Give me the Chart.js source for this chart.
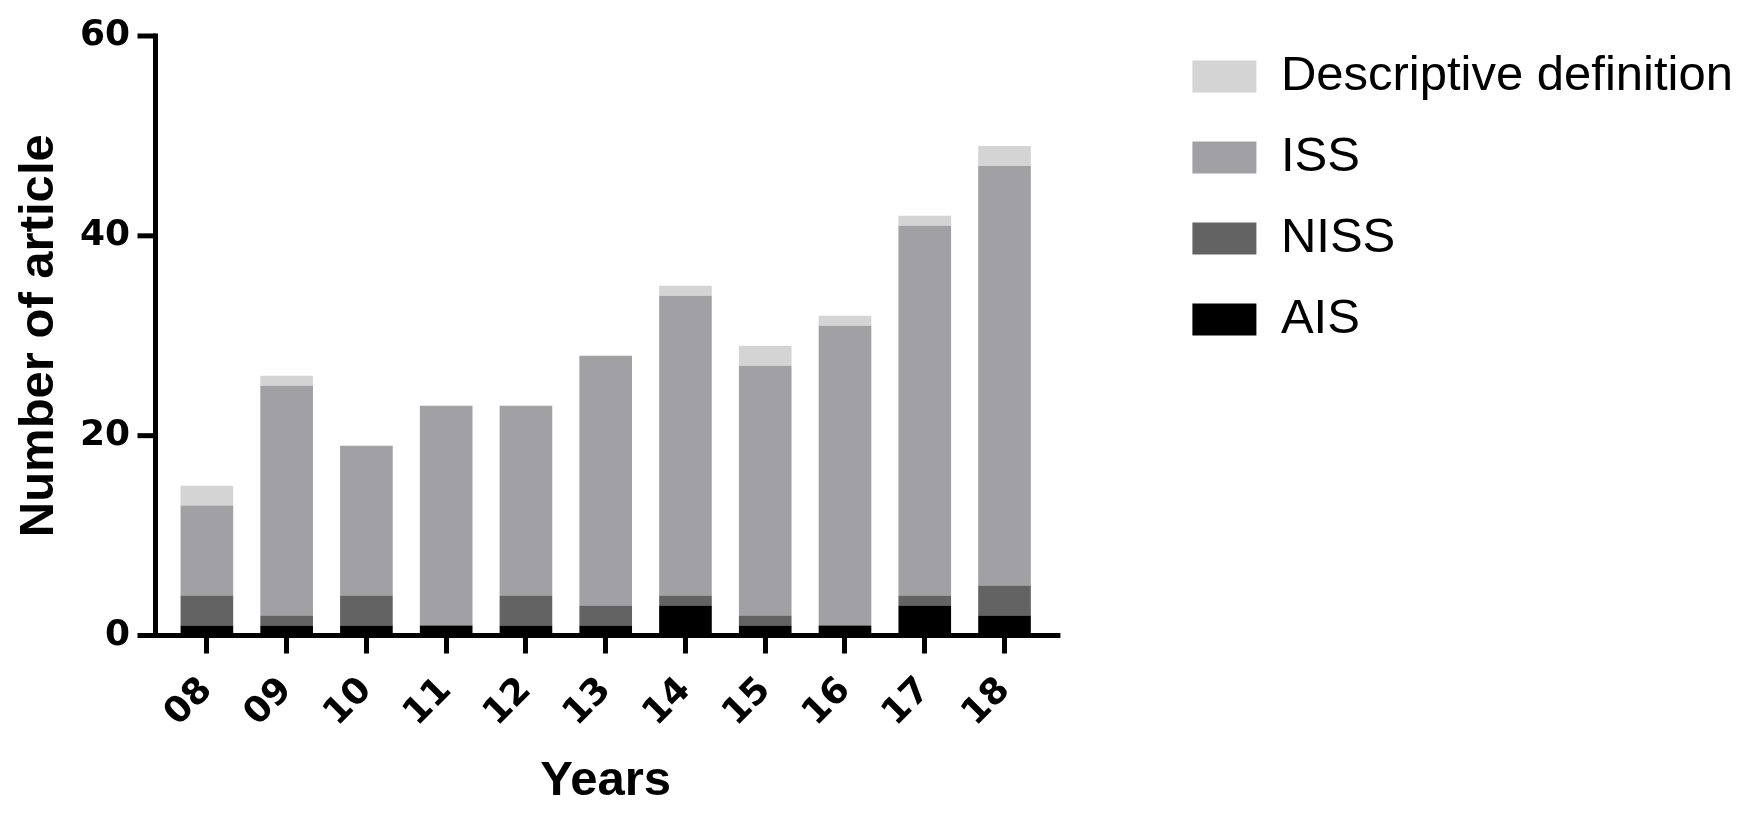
<!DOCTYPE html>
<html>
<head>
<meta charset="utf-8">
<script src="https://cdn.jsdelivr.net/npm/chart.js@4.4.0/dist/chart.umd.min.js"></script>
<style>
  html, body { margin: 0; padding: 0; background: #fff; }
  #wrap { width: 1762px; height: 819px; }
</style>
</head>
<body>
<div id="wrap"><canvas id="chart" width="1762" height="819"></canvas></div>
<script>
var years = ["08", "09", "10", "11", "12", "13", "14", "15", "16", "17", "18"];
var seriesNames = ["AIS", "NISS", "ISS", "Descriptive definition"];
var ais = [1, 1, 1, 1, 1, 1, 3, 1, 1, 3, 2];
var niss = [3, 1, 3, 0, 3, 2, 1, 1, 0, 1, 3];
var iss = [9, 23, 15, 22, 19, 25, 30, 25, 30, 37, 42];
var descriptive = [2, 1, 0, 0, 0, 0, 1, 2, 1, 1, 2];
var yTicks = [0, 20, 40, 60];

var tickFont = { family: "DejaVu Sans", weight: "bold", size: 36 };
var titleFont = { family: "Liberation Sans", weight: "bold", size: 49 };
var legendFont = { family: "Liberation Sans", size: 49 };

// legend box starts at x=1192, so work out the right padding from the widest label
var legendPad = 32, legendBox = 64;
var measureCtx = document.createElement("canvas").getContext("2d");
measureCtx.font = legendFont.size + "px " + legendFont.family;
var widest = 0;
seriesNames.forEach(function (t) { widest = Math.max(widest, measureCtx.measureText(t).width); });
var legendWidth = legendPad + legendBox + legendFont.size / 2 + widest + 10;
var rightPad = Math.max(0, Math.round(1762 - (1192 - legendPad) - legendWidth));

// axis lines and y tick marks sit a little outside the bars, like the prism style
var axesPlugin = {
    id: "axes",
    afterDatasetsDraw: function (chart) {
        var ctx = chart.ctx,
            area = chart.chartArea,
            y = chart.scales.y,
            axisX = area.left - 11.5,
            top = y.getPixelForValue(60);

        ctx.save();
        ctx.strokeStyle = "#000";
        ctx.lineWidth = 5;
        ctx.lineCap = "butt";

        ctx.beginPath();
        ctx.moveTo(axisX, top - 2.5);
        ctx.lineTo(axisX, area.bottom + 2.5);
        ctx.stroke();

        ctx.beginPath();
        ctx.moveTo(axisX - 2.5, area.bottom);
        ctx.lineTo(area.right + 16, area.bottom);
        ctx.stroke();

        yTicks.forEach(function (v) {
            var py = y.getPixelForValue(v);
            ctx.beginPath();
            ctx.moveTo(axisX - 18, py);
            ctx.lineTo(axisX, py);
            ctx.stroke();
        });
        ctx.restore();
    }
};

var data = {
    labels: years,
    datasets: [
        { label: seriesNames[0], data: ais, backgroundColor: "#000000" },
        { label: seriesNames[1], data: niss, backgroundColor: "#636363" },
        { label: seriesNames[2], data: iss, backgroundColor: "#a1a0a4" },
        { label: seriesNames[3], data: descriptive, backgroundColor: "#d4d4d4" }
    ]
};

new Chart(document.getElementById("chart").getContext("2d"), {
    type: "bar",
    data: data,
    plugins: [axesPlugin],
    options: {
        responsive: false,
        animation: false,
        devicePixelRatio: 1,
        categoryPercentage: 1,
        barPercentage: 0.66,
        layout: { padding: { top: 20, right: rightPad, bottom: 0, left: 0 } },
        plugins: {
            tooltip: { enabled: false },
            legend: {
                position: "right",
                align: "start",
                reverse: true,
                maxWidth: Math.ceil(legendWidth) + 20,
                labels: {
                    boxWidth: legendBox,
                    boxHeight: 32,
                    padding: legendPad,
                    color: "#000",
                    font: legendFont
                }
            }
        },
        scales: {
            x: {
                stacked: true,
                offset: true,
                border: { display: false },
                grid: {
                    display: true,
                    offset: false,
                    drawOnChartArea: false,
                    color: "#000",
                    lineWidth: 5,
                    tickLength: 18
                },
                ticks: {
                    color: "#000",
                    font: tickFont,
                    minRotation: 45,
                    maxRotation: 45,
                    autoSkip: false,
                    padding: 16
                },
                title: {
                    display: true,
                    text: "Years",
                    color: "#000",
                    font: titleFont,
                    padding: { top: 4, bottom: 8 }
                },
                afterFit: function (scale) { scale.height = 183.5; }
            },
            y: {
                stacked: true,
                min: 0,
                max: 60,
                border: { display: false },
                grid: { display: false, drawTicks: false },
                afterBuildTicks: function (scale) {
                    scale.ticks = yTicks.map(function (v) { return { value: v }; });
                },
                ticks: {
                    color: "#000",
                    font: tickFont,
                    padding: 37
                },
                title: {
                    display: true,
                    text: "Number of article",
                    color: "#000",
                    font: titleFont,
                    padding: { top: 10, bottom: 0 }
                },
                afterFit: function (scale) {
                    scale.width = 167;
                    scale.paddingTop = 36;
                }
            },
            y2: {
                position: "right",
                display: true,
                border: { display: false },
                grid: { display: false },
                ticks: { display: false },
                afterFit: function (scale) { scale.width = 116; }
            }
        }
    }
});
</script>
</body>
</html>
